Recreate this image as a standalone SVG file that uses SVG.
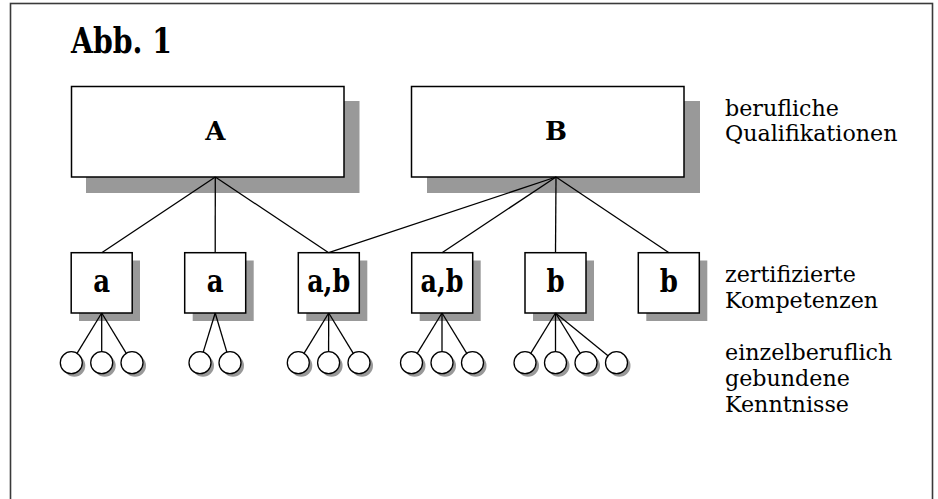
<svg xmlns="http://www.w3.org/2000/svg" width="938" height="499" viewBox="0 0 938 499">
<style>
.frame{fill:none;stroke:#3a3a3a;stroke-width:1.6}
.box{fill:#fff;stroke:#000;stroke-width:1.5}
.sh{fill:#999;stroke:none}
.c{fill:#fff;stroke:#000;stroke-width:1.3}
.csh{fill:#999;stroke:none}
.ln{stroke:#000;stroke-width:1.3;fill:none}
.bold{font-family:"DejaVu Serif","Liberation Serif",serif;font-weight:bold;fill:#000}
.lbl{font-family:"DejaVu Serif","Liberation Serif",serif;font-size:22.2px;fill:#000}
</style>
<rect x="0" y="0" width="938" height="499" fill="#fff"/>
<rect class="frame" x="10.5" y="3.5" width="922" height="530"/>
<text class="bold" x="71" y="53" font-size="36" textLength="101" lengthAdjust="spacingAndGlyphs">Abb. 1</text>

<g id="node-A">
<rect class="sh" x="86" y="101" width="273.5" height="92"/>
<rect class="box" x="71.5" y="86.5" width="272.5" height="90.5"/>
<text class="bold" x="215.3" y="140" font-size="26" text-anchor="middle">A</text>
</g>
<g id="node-B">
<rect class="sh" x="427" y="101" width="273" height="92"/>
<rect class="box" x="411.5" y="86.5" width="272.5" height="90.5"/>
<text class="bold" x="556" y="140" font-size="26" text-anchor="middle">B</text>
</g>

<g id="comp-1">
<rect class="sh" x="79" y="260.5" width="61" height="60.5"/>
<rect class="box" x="71.2" y="252.7" width="61" height="60.3"/>
<text class="bold" transform="translate(101.7 291.7) scale(0.84 1)" font-size="31" text-anchor="middle">a</text>
</g>
<g id="comp-2">
<rect class="sh" x="192.7" y="260.5" width="61" height="60.5"/>
<rect class="box" x="184.7" y="252.7" width="61" height="60.3"/>
<text class="bold" transform="translate(215.2 291.7) scale(0.84 1)" font-size="31" text-anchor="middle">a</text>
</g>
<g id="comp-3">
<rect class="sh" x="306.3" y="260.5" width="61" height="60.5"/>
<rect class="box" x="298.3" y="252.7" width="61" height="60.3"/>
<text class="bold" transform="translate(328.7 291.7) scale(0.82 1)" font-size="31" text-anchor="middle">a,b</text>
</g>
<g id="comp-4">
<rect class="sh" x="419.7" y="260.5" width="61" height="60.5"/>
<rect class="box" x="411.7" y="252.7" width="61" height="60.3"/>
<text class="bold" transform="translate(442 291.7) scale(0.82 1)" font-size="31" text-anchor="middle">a,b</text>
</g>
<g id="comp-5">
<rect class="sh" x="533" y="260.5" width="61" height="60.5"/>
<rect class="box" x="525" y="252.7" width="61" height="60.3"/>
<text class="bold" transform="translate(555.5 291.7) scale(0.84 1)" font-size="31" text-anchor="middle">b</text>
</g>
<g id="comp-6">
<rect class="sh" x="646.3" y="260.5" width="61" height="60.5"/>
<rect class="box" x="638.3" y="252.7" width="61" height="60.3"/>
<text class="bold" transform="translate(668.8 291.7) scale(0.84 1)" font-size="31" text-anchor="middle">b</text>
</g>

<g id="knowledge-1">
<circle class="csh" cx="74.3" cy="365.7" r="11"/><circle class="c" cx="71.3" cy="362.7" r="11"/>
<circle class="csh" cx="104.7" cy="365.7" r="11"/><circle class="c" cx="101.7" cy="362.7" r="11"/>
<circle class="csh" cx="135" cy="365.7" r="11"/><circle class="c" cx="132" cy="362.7" r="11"/>
</g>
<g id="knowledge-2">
<circle class="csh" cx="203" cy="365.7" r="11"/><circle class="c" cx="200" cy="362.7" r="11"/>
<circle class="csh" cx="233" cy="365.7" r="11"/><circle class="c" cx="230" cy="362.7" r="11"/>
</g>
<g id="knowledge-3">
<circle class="csh" cx="301.3" cy="365.7" r="11"/><circle class="c" cx="298.3" cy="362.7" r="11"/>
<circle class="csh" cx="331.6" cy="365.7" r="11"/><circle class="c" cx="328.6" cy="362.7" r="11"/>
<circle class="csh" cx="362" cy="365.7" r="11"/><circle class="c" cx="359" cy="362.7" r="11"/>
</g>
<g id="knowledge-4">
<circle class="csh" cx="414.5" cy="365.7" r="11"/><circle class="c" cx="411.5" cy="362.7" r="11"/>
<circle class="csh" cx="445" cy="365.7" r="11"/><circle class="c" cx="442" cy="362.7" r="11"/>
<circle class="csh" cx="475.5" cy="365.7" r="11"/><circle class="c" cx="472.5" cy="362.7" r="11"/>
</g>
<g id="knowledge-5">
<circle class="csh" cx="528" cy="365.7" r="11"/><circle class="c" cx="525" cy="362.7" r="11"/>
<circle class="csh" cx="558.5" cy="365.7" r="11"/><circle class="c" cx="555.5" cy="362.7" r="11"/>
<circle class="csh" cx="589" cy="365.7" r="11"/><circle class="c" cx="586" cy="362.7" r="11"/>
<circle class="csh" cx="619.5" cy="365.7" r="11"/><circle class="c" cx="616.5" cy="362.7" r="11"/>
</g>

<g id="connectors">
<line class="ln" x1="215.3" y1="177" x2="101.7" y2="252.7"/>
<line class="ln" x1="215.3" y1="177" x2="215.2" y2="252.7"/>
<line class="ln" x1="215.3" y1="177" x2="328.7" y2="252.7"/>
<line class="ln" x1="556" y1="177" x2="328.7" y2="252.7"/>
<line class="ln" x1="556" y1="177" x2="442" y2="252.7"/>
<line class="ln" x1="556" y1="177" x2="555.5" y2="252.7"/>
<line class="ln" x1="556" y1="177" x2="669" y2="252.7"/>
<line class="ln" x1="101.7" y1="313" x2="77.04" y2="353.32"/>
<line class="ln" x1="101.7" y1="313" x2="101.7" y2="351.7"/>
<line class="ln" x1="101.7" y1="313" x2="126.27" y2="353.31"/>
<line class="ln" x1="215.2" y1="313" x2="203.22" y2="352.18"/>
<line class="ln" x1="215.2" y1="313" x2="226.86" y2="352.16"/>
<line class="ln" x1="328.7" y1="313" x2="304.04" y2="353.32"/>
<line class="ln" x1="328.7" y1="313" x2="328.6" y2="351.7"/>
<line class="ln" x1="328.7" y1="313" x2="353.27" y2="353.31"/>
<line class="ln" x1="442" y1="313" x2="417.25" y2="353.32"/>
<line class="ln" x1="442" y1="313" x2="442" y2="351.7"/>
<line class="ln" x1="442" y1="313" x2="466.75" y2="353.32"/>
<line class="ln" x1="555.5" y1="313" x2="530.75" y2="353.32"/>
<line class="ln" x1="555.5" y1="313" x2="555.5" y2="351.7"/>
<line class="ln" x1="555.5" y1="313" x2="580.25" y2="353.32"/>
<line class="ln" x1="555.5" y1="313" x2="607.97" y2="355.75"/>
</g>

<g id="legend">
<text class="lbl" x="725" y="115.7">berufliche</text>
<text class="lbl" x="725" y="140.7">Qualifikationen</text>
<text class="lbl" x="725" y="282.3">zertifizierte</text>
<text class="lbl" x="725" y="308.3">Kompetenzen</text>
<text class="lbl" x="725" y="360">einzelberuflich</text>
<text class="lbl" x="725" y="386">gebundene</text>
<text class="lbl" x="725" y="412">Kenntnisse</text>
</g>
</svg>
